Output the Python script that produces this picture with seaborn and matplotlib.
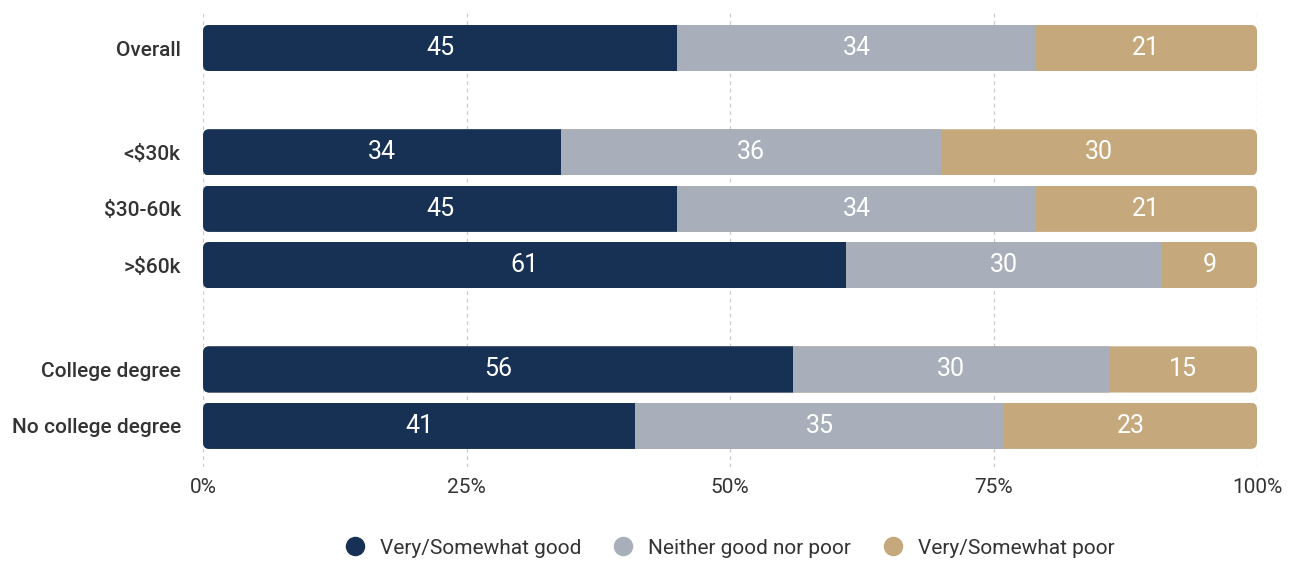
import numpy as np
import pandas as pd
import matplotlib
matplotlib.use("Agg")
import matplotlib.pyplot as plt
import seaborn as sns
from matplotlib.patches import FancyBboxPatch
from matplotlib.lines import Line2D

# data
groups = ["Overall", "<$30k", "$30-60k", ">$60k", "College degree", "No college degree"]
good = [45, 34, 45, 61, 56, 41]
neither = [34, 36, 34, 30, 30, 35]
poor = [21, 30, 21, 9, 15, 23]
series_names = ["Very/Somewhat good", "Neither good nor poor", "Very/Somewhat poor"]
x_ticks = [0, 25, 50, 75, 100]
x_tick_labels = ["0%", "25%", "50%", "75%", "100%"]

# layout (row positions with gaps between blocks)
row_pos = [0, 1.85, 2.85, 3.85, 5.7, 6.7]
colors = ["#173155", "#a9afba", "#c5a87c"]
text_color = "#333333"
BAR_H = 0.82

sns.set_theme(style="white")
plt.rcParams["font.family"] = ["Roboto", "DejaVu Sans"]

df = pd.DataFrame({
    "group": groups, "pos": row_pos,
    "good": good, "neither": neither, "poor": poor,
})
df["cum1"] = df["good"]
df["cum2"] = df["good"] + df["neither"]
# last segment fills the rest of the 100% bar (rounded shares)
df["cum3"] = 100

fig = plt.figure(figsize=(12.94, 5.61), dpi=100)
ax = fig.add_axes([0.1569, 0.1676, 0.8145, 0.8146])

# draw from the back so stacked segments show
for col, c in zip(["cum3", "cum2", "cum1"], colors[::-1]):
    sns.barplot(data=df, x=col, y="pos", orient="h", native_scale=True,
                color=c, saturation=1, width=BAR_H, errorbar=None,
                linewidth=0, ax=ax)

ax.set_xlim(0, 100)
ax.set_ylim(row_pos[-1] + 0.73, row_pos[0] - 0.675)

# rounded outer corners for every stacked row
xpx = ax.get_window_extent().width / 100
ypx = ax.get_window_extent().height / (row_pos[-1] + 0.73 - row_pos[0] + 0.675)
for p in ax.patches:
    y0 = p.get_y()
    h = p.get_height()
    clip = FancyBboxPatch((0, y0), 100, h,
                          boxstyle="round,pad=0,rounding_size=0.6",
                          mutation_aspect=xpx / ypx,
                          transform=ax.transData, facecolor="none",
                          edgecolor="none")
    p.set_clip_path(clip)

# segment labels
for i in range(len(groups)):
    starts = [0, good[i], good[i] + neither[i]]
    ends = [good[i], good[i] + neither[i], 100]
    vals = [good[i], neither[i], poor[i]]
    for s, e, v in zip(starts, ends, vals):
        ax.text((s + e) / 2, row_pos[i], str(v), ha="center", va="center",
                color="white", fontsize=18)

ax.set_yticks(row_pos)
ax.set_yticklabels(groups, fontsize=15, color=text_color, fontweight="medium")
ax.set_xticks(x_ticks)
ax.set_xticklabels(x_tick_labels, fontsize=15, color=text_color)
ax.tick_params(axis="both", length=0)
ax.tick_params(axis="y", pad=16)
ax.tick_params(axis="x", pad=8)
ax.set_xlabel("")
ax.set_ylabel("")
for s in ax.spines.values():
    s.set_visible(False)
ax.grid(axis="x", color="#c8cbd2", linestyle=(0, (3, 3)), linewidth=0.9)
ax.set_axisbelow(True)

handles = [Line2D([0], [0], marker="o", linestyle="", markersize=13,
                  markerfacecolor=c, markeredgecolor=c) for c in colors]
fig.legend(handles, series_names, loc="center", bbox_to_anchor=(0.56, 0.023),
           ncol=3, frameon=False, fontsize=15, handletextpad=0.2,
           columnspacing=1.0, labelcolor=text_color)

fig.savefig("out.png", dpi=100)
